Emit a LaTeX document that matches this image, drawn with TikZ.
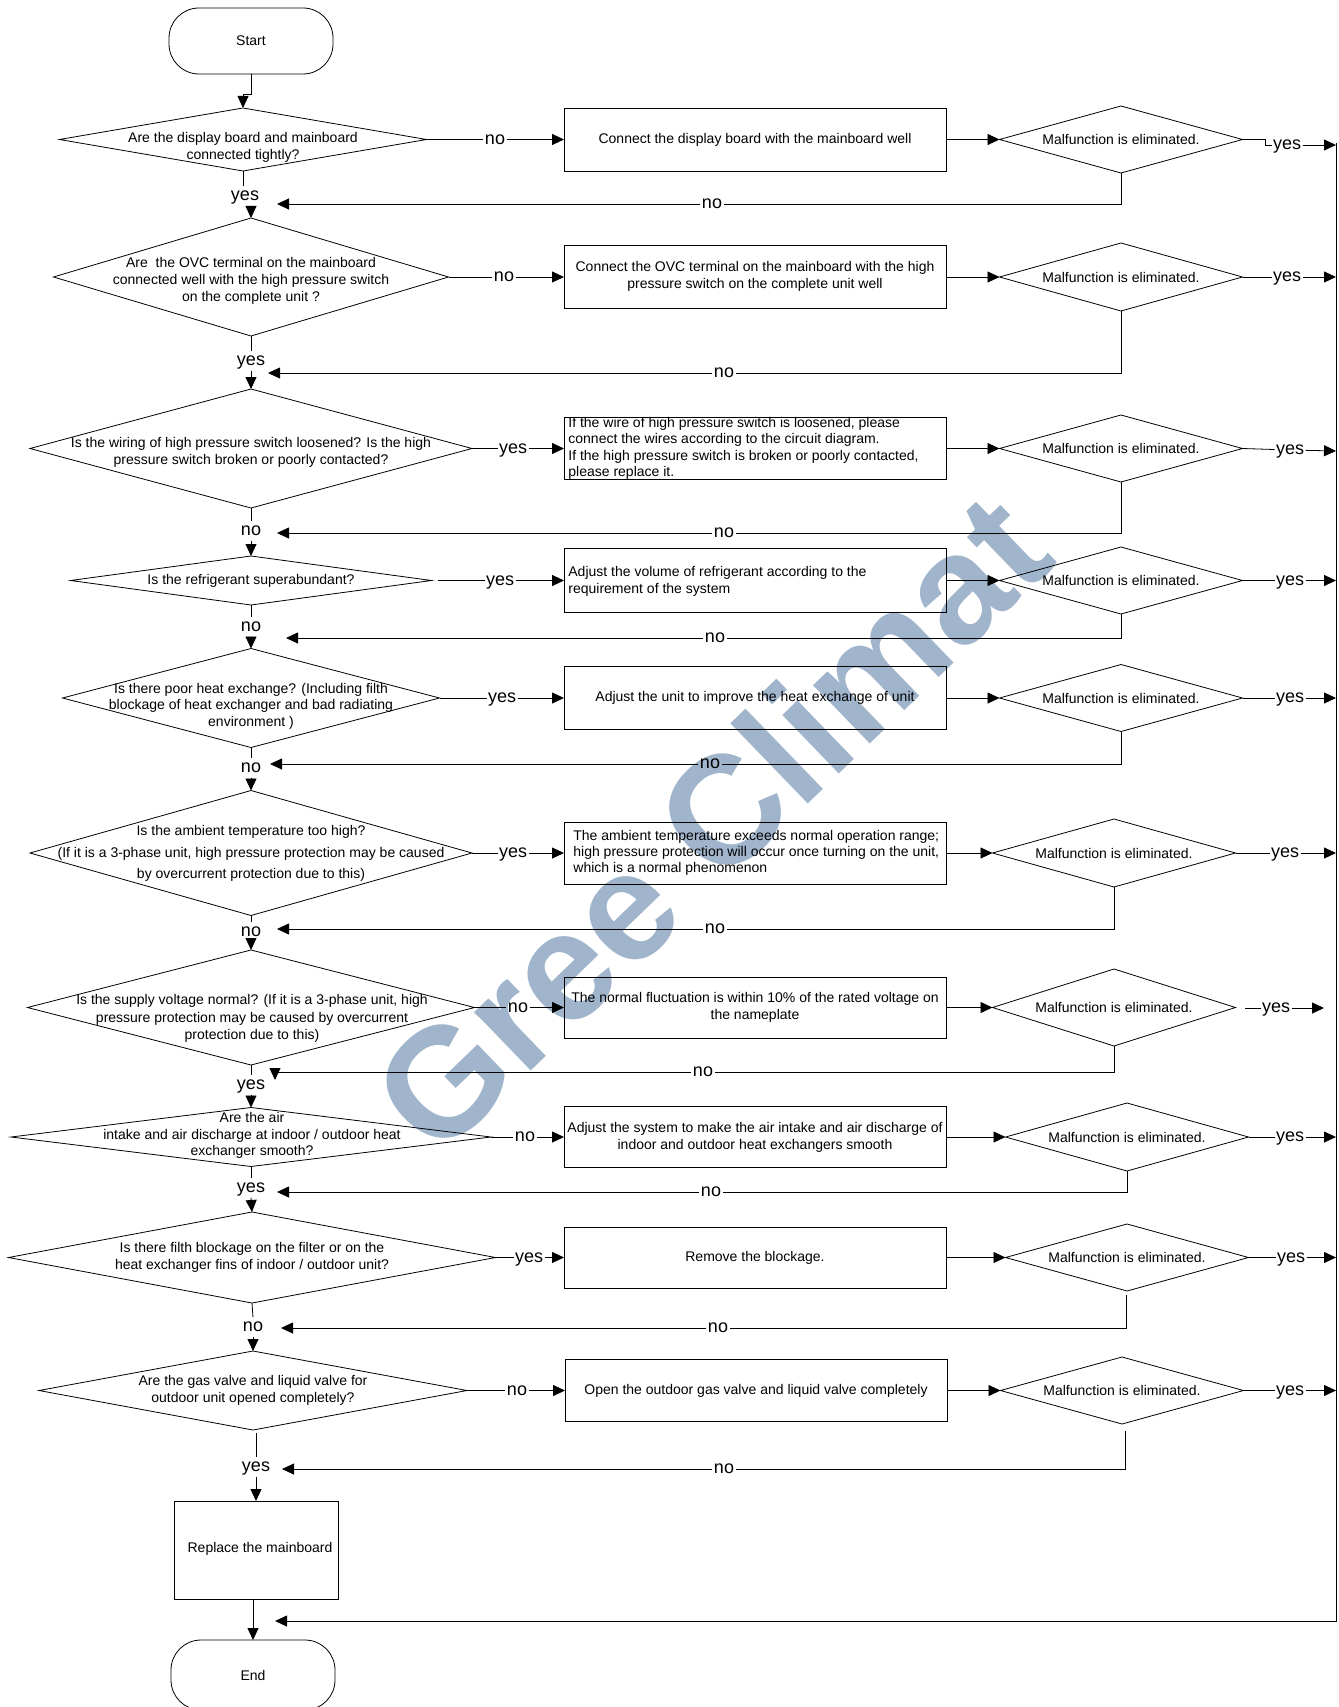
\documentclass[tikz,border=0pt]{standalone}
\usepackage{fontspec}
\setmainfont{Liberation Sans}
\usetikzlibrary{shapes.geometric,arrows.meta}
\definecolor{wm}{RGB}{160,181,204}
\begin{document}
\begin{tikzpicture}[x=1pt,y=-1pt,
  font=\fontsize{14}{17}\selectfont,
  every path/.style={line width=0.8pt},
  arr/.style={-{Triangle[length=12pt,width=11pt]}},
  dia/.style 2 args={draw,diamond,inner sep=0pt,outer sep=0pt,minimum width=#1,minimum height=#2},
  box/.style 2 args={draw,rectangle,inner sep=0pt,outer sep=0pt,minimum width=#1,minimum height=#2},
  term/.style 2 args={draw,rectangle,rounded corners=30pt,inner sep=0pt,outer sep=0pt,minimum width=#1,minimum height=#2},
  txt/.style={align=center,inner sep=0pt},
  ltxt/.style={align=left,inner sep=0pt,anchor=west},
  lab/.style={font=\fontsize{18}{18}\selectfont,text height=9.3pt,text depth=0pt,inner xsep=1.5pt,inner ysep=5pt,outer sep=0pt},
]
\useasboundingbox (0,0) rectangle (1338,1707);

% watermark
\node[text=wm,font=\fontsize{154}{154}\selectfont\bfseries,rotate=44,inner sep=0pt] (wmk) at (710,822) {Gree Climat};

% ---------- nodes ----------
\node[term={164}{66}] (start) at (251,41) {Start};

\node[dia={367}{63}] (d1) at (243,139.5) {};
\node[txt] (d1t) at (243,147.5) {Are the display board and mainboard\\connected tightly?};
\node[box={382}{63}] (b1) at (755,139.5) {Connect the display board with the mainboard well};
\node[dia={243}{67}] (m1) at (1121,139.5) {};
\node[txt] (m1t) at (1121,139.5) {Malfunction is eliminated.};

\node[dia={395}{118}] (d2) at (251,277) {};
\node[txt] (d2t) at (251,281) {Are~ the OVC terminal on the mainboard\\connected well with the high pressure switch\\on the complete unit ?};
\node[box={382}{63}] (b2) at (755,277) {};
\node[txt] (b2t) at (755,276.5) {Connect the OVC terminal on the mainboard with the high\\pressure switch on the complete unit well};
\node[dia={243}{68}] (m2) at (1121,277) {};
\node[txt] (m2t) at (1121,277) {Malfunction is eliminated.};

\node[dia={442}{119}] (d3) at (251,448.5) {};
\node[txt] (d3t) at (251,452) {Is the wiring of high pressure switch loosened? Is the high\\pressure switch broken or poorly contacted?};
\node[box={382}{62}] (b3) at (755,448.5) {};
\node[ltxt,font=\fontsize{14}{16.3}\selectfont] (b3t) at (568,448.5) {If the wire of high pressure switch is loosened, please\\connect the wires according to the circuit diagram.\\If the high pressure switch is broken or poorly contacted,\\please replace it.};
\node[dia={243}{67}] (m3) at (1121,448.5) {};
\node[txt] (m3t) at (1121,448.5) {Malfunction is eliminated.};

\node[dia={361}{49}] (d4) at (251,580.5) {};
\node[txt] (d4t) at (251,580.5) {Is the refrigerant superabundant?};
\node[box={382}{64}] (b4) at (755,580.5) {};
\node[ltxt] (b4t) at (568,581) {Adjust the volume of refrigerant according to the\\requirement of the system};
\node[dia={243}{67}] (m4) at (1121,580.5) {};
\node[txt] (m4t) at (1121,580.5) {Malfunction is eliminated.};

\node[dia={377}{99}] (d5) at (251,698) {};
\node[txt,font=\fontsize{14}{16.5}\selectfont] (d5t) at (251,706) {Is there poor heat exchange? (Including filth\\blockage of heat exchanger and bad radiating\\environment )};
\node[box={382}{63}] (b5) at (755,698) {Adjust the unit to improve the heat exchange of unit};
\node[dia={243}{67}] (m5) at (1121,698) {};
\node[txt] (m5t) at (1121,698) {Malfunction is eliminated.};

\node[dia={442}{125}] (d6) at (251,853) {};
\node[txt,font=\fontsize{14}{21.5}\selectfont] (d6t) at (251,853.5) {Is the ambient temperature too high?\\(If it is a 3-phase unit, high pressure protection may be caused\\by overcurrent protection due to this)};
\node[box={382}{62}] (b6) at (755,853) {};
\node[ltxt,font=\fontsize{14}{16}\selectfont] (b6t) at (573,853) {The ambient temperature exceeds normal operation range;\\high pressure protection will occur once turning on the unit,\\which is a normal phenomenon};
\node[dia={243}{68}] (m6) at (1114,853) {};
\node[txt] (m6t) at (1114,853) {Malfunction is eliminated.};

\node[dia={447}{115}] (d7) at (251,1007.5) {};
\node[txt,font=\fontsize{14}{17.5}\selectfont] (d7t) at (252,1018.5) {Is the supply voltage normal? (If it is a 3-phase unit, high\\pressure protection may be caused by overcurrent\\protection due to this)};
\node[box={382}{61}] (b7) at (755,1007.5) {};
\node[txt,font=\fontsize{14}{16.5}\selectfont] (b7t) at (755,1007.5) {The normal fluctuation is within 10\% of the rated voltage on\\the nameplate};
\node[dia={243}{77}] (m7) at (1114,1007.5) {};
\node[txt] (m7t) at (1114,1007.5) {Malfunction is eliminated.};

\node[dia={480}{59}] (d8) at (251,1137) {};
\node[txt,font=\fontsize{14}{16.5}\selectfont] (d8t) at (252,1135.5) {Are the air\\intake and air discharge at indoor / outdoor heat\\exchanger smooth?};
\node[box={382}{61}] (b8) at (755,1137) {};
\node[txt] (b8t) at (755,1137) {Adjust the system to make the air intake and air discharge of\\indoor and outdoor heat exchangers smooth};
\node[dia={243}{68}] (m8) at (1127,1137) {};
\node[txt] (m8t) at (1127,1137) {Malfunction is eliminated.};

\node[dia={487}{91}] (d9) at (252,1257.5) {};
\node[txt] (d9t) at (252,1257.5) {Is there filth blockage on the filter or on the\\heat exchanger fins of indoor / outdoor unit?};
\node[box={382}{61}] (b9) at (755,1257.5) {Remove the blockage.};
\node[dia={243}{67}] (m9) at (1127,1257.5) {};
\node[txt] (m9t) at (1127,1257.5) {Malfunction is eliminated.};

\node[dia={428}{79}] (d10) at (253,1390.5) {};
\node[txt] (d10t) at (253,1390.5) {Are the gas valve and liquid valve for\\outdoor unit opened completely?};
\node[box={382}{62}] (b10) at (756,1390.5) {Open the outdoor gas valve and liquid valve completely};
\node[dia={243}{67}] (m10) at (1122,1390.5) {};
\node[txt] (m10t) at (1122,1390.5) {Malfunction is eliminated.};

\node[box={164}{98}] (rep) at (256,1550) {};
\node[txt] (rept) at (260,1549) {Replace the mainboard};

\node[term={164}{70}] (end) at (253,1675) {End};

% ---------- vertical flow ----------
\draw[arr] (start.south) -- ++(0,20) -| (d1.north);

\node[lab] (v1) at (245,196) {yes};
\draw (d1.south) -- (d1.south |- v1.north);
\draw[arr] (v1.south -| d2.north) -- (d2.north);

\node[lab] (v2) at (251,361) {yes};
\draw (d2.south) -- (v2.north);
\draw[arr] (v2.south) -- (d3.north);

\node[lab] (v3) at (251,531) {no};
\draw (d3.south) -- (v3.north);
\draw[arr] (v3.south) -- (d4.north);

\node[lab] (v4) at (251,627) {no};
\draw (d4.south) -- (v4.north);
\draw[arr] (v4.south) -- (d5.north);

\node[lab] (v5) at (251,768) {no};
\draw (d5.south) -- (v5.north);
\draw[arr] (v5.south) -- (d6.north);

\node[lab] (v6) at (251,932) {no};
\draw (d6.south) -- (v6.north);
\draw[arr] (v6.south) -- (d7.north);

\node[lab] (v7) at (251,1085) {yes};
\draw (d7.south) -- (v7.north);
\draw[arr] (v7.south) -- (d8.north);

\node[lab] (v8) at (251,1188) {yes};
\draw (d8.south) -- (v8.north);
\draw[arr] (v8.south) -- (d9.north);

\node[lab] (v9) at (253,1327) {no};
\draw (d9.south) -- (v9.north);
\draw[arr] (v9.south) -- (d10.north);

\node[lab] (v10) at (256,1467) {yes};
\coordinate (g10) at (256,1433);
\draw (g10) -- (v10.north);
\draw[arr] (v10.south) -- (rep.north);

\draw[arr] (rep.south -| end.north) -- (end.north);

% ---------- D -> B ----------
\node[lab] (h1) at (495,139.5) {no};
\draw (d1.east) -- (h1); \draw[arr] (h1) -- (b1.west);
\node[lab] (h2) at (504,277) {no};
\draw (d2.east) -- (h2); \draw[arr] (h2) -- (b2.west);
\node[lab] (h3) at (513,448.5) {yes};
\draw (d3.east) -- (h3); \draw[arr] (h3) -- (b3.west);
\node[lab] (h4) at (500,580.5) {yes};
\coordinate (g4) at (438,580.5);
\draw (g4) -- (h4); \draw[arr] (h4) -- (b4.west);
\node[lab] (h5) at (502,698) {yes};
\draw (d5.east) -- (h5); \draw[arr] (h5) -- (b5.west);
\node[lab] (h6) at (513,853) {yes};
\draw (d6.east) -- (h6); \draw[arr] (h6) -- (b6.west);
\node[lab] (h7) at (518,1007.5) {no};
\draw (d7.east) -- (h7); \draw[arr] (h7) -- (b7.west);
\node[lab] (h8) at (525,1137) {no};
\draw (d8.east) -- (h8); \draw[arr] (h8) -- (b8.west);
\node[lab] (h9) at (529,1257.5) {yes};
\draw (d9.east) -- (h9); \draw[arr] (h9) -- (b9.west);
\node[lab] (h10) at (517,1390.5) {no};
\draw (d10.east) -- (h10); \draw[arr] (h10) -- (b10.west);

% ---------- B -> M ----------
\draw[arr] (b1.east) -- (m1.west);
\draw[arr] (b2.east) -- (m2.west);
\draw[arr] (b3.east) -- (m3.west);
\draw[arr] (b4.east) -- (m4.west);
\draw[arr] (b5.east) -- (m5.west);
\draw[arr] (b6.east) -- (m6.west);
\draw[arr] (b7.east) -- (m7.west);
\draw[arr] (b8.east) -- (m8.west);
\draw[arr] (b9.east) -- (m9.west);
\draw[arr] (b10.east) -- (m10.west);

% ---------- M yes -> bus ----------
\coordinate (bustop) at (1336,143);
\coordinate (busbot) at (1336,1621);
\coordinate (endin) at (275,1621);
\draw[arr] (bustop) -- (busbot) -- (endin);

\node[lab] (y1) at (1287,145) {yes};
\draw (m1.east) -- ++(23,0) |- (y1);
\coordinate (bus1) at (1336,145);
\draw[arr] (y1) -- (bus1);

\node[lab] (y2) at (1287,277) {yes};
\coordinate (bus2) at (1336,277);
\draw (m2.east) -- (y2); \draw[arr] (y2) -- (bus2);

\node[lab] (y3) at (1290,450) {yes};
\coordinate (bus3) at (1336,451);
\draw (m3.east) -- (y3); \draw[arr] (y3) -- (bus3);

\node[lab] (y4) at (1290,580.5) {yes};
\coordinate (bus4) at (1336,580.5);
\draw (m4.east) -- (y4); \draw[arr] (y4) -- (bus4);

\node[lab] (y5) at (1290,698) {yes};
\coordinate (bus5) at (1336,698);
\draw (m5.east) -- (y5); \draw[arr] (y5) -- (bus5);

\node[lab] (y6) at (1285,853) {yes};
\coordinate (bus6) at (1336,853);
\draw (m6.east) -- (y6); \draw[arr] (y6) -- (bus6);

\node[lab] (y7) at (1276,1008) {yes};
\coordinate (y7s) at (1245,1008);
\coordinate (y7e) at (1324,1008);
\draw (y7s) -- (y7); \draw[arr] (y7) -- (y7e);

\node[lab] (y8) at (1290,1137) {yes};
\coordinate (bus8) at (1336,1137);
\draw (m8.east) -- (y8); \draw[arr] (y8) -- (bus8);

\node[lab] (y9) at (1291,1257.5) {yes};
\coordinate (bus9) at (1336,1257.5);
\draw (m9.east) -- (y9); \draw[arr] (y9) -- (bus9);

\node[lab] (y10) at (1290,1390.5) {yes};
\coordinate (bus10) at (1336,1390.5);
\draw (m10.east) -- (y10); \draw[arr] (y10) -- (bus10);

% ---------- M no -> back ----------
\node[lab] (n1) at (712,204) {no};
\coordinate (r1) at (277,204);
\draw (m1.south) |- (n1); \draw[arr] (n1) -- (r1);

\node[lab] (n2) at (724,373) {no};
\coordinate (r2) at (268,373);
\draw (m2.south) |- (n2); \draw[arr] (n2) -- (r2);

\node[lab] (n3) at (724,533) {no};
\coordinate (r3) at (277,533);
\draw (m3.south) |- (n3); \draw[arr] (n3) -- (r3);

\node[lab] (n4) at (715,638) {no};
\coordinate (r4) at (286,638);
\draw (m4.south) |- (n4); \draw[arr] (n4) -- (r4);

\node[lab] (n5) at (710,764) {no};
\coordinate (r5) at (270,764);
\draw (m5.south) |- (n5); \draw[arr] (n5) -- (r5);

\node[lab] (n6) at (715,929) {no};
\coordinate (r6) at (277,929);
\draw (m6.south) |- (n6); \draw[arr] (n6) -- (r6);

\node[lab] (n7) at (703,1072) {no};
\coordinate (r7) at (275,1080);
\draw (m7.south) |- (n7); \draw[arr] (n7) -| (r7);

\node[lab] (n8) at (711,1192) {no};
\coordinate (r8) at (277,1192);
\draw (m8.south) |- (n8); \draw[arr] (n8) -- (r8);

\node[lab] (n9) at (718,1328) {no};
\coordinate (r9) at (281,1328);
\coordinate (g9) at (1126,1295);
\draw (g9) |- (n9); \draw[arr] (n9) -- (r9);

\node[lab] (n10) at (724,1469) {no};
\coordinate (r10) at (282,1469);
\coordinate (g10b) at (1125,1431);
\draw (g10b) |- (n10); \draw[arr] (n10) -- (r10);
\end{tikzpicture}
\end{document}
